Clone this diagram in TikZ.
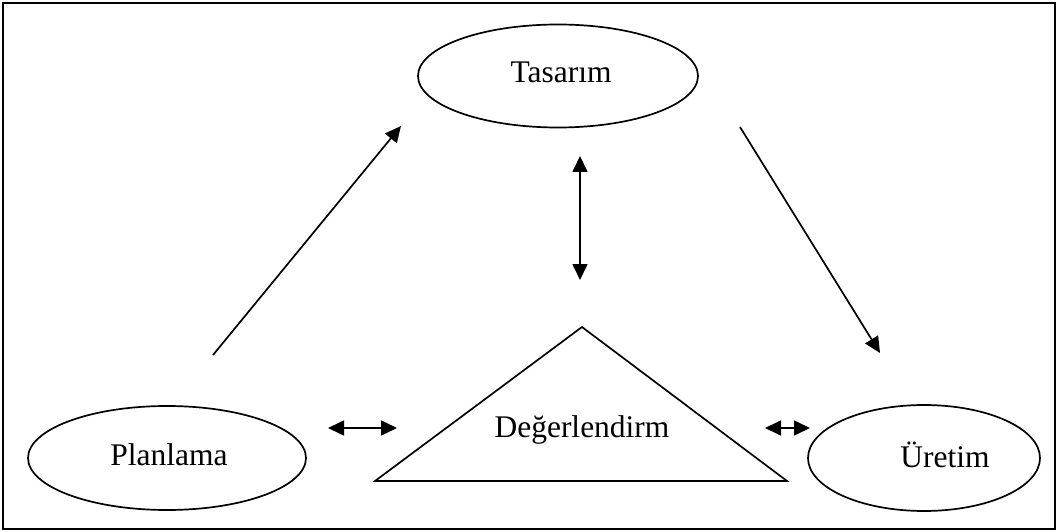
\documentclass[tikz,border=0pt]{standalone}
\usepackage{fontspec}
\setmainfont{Liberation Serif}
\usetikzlibrary{shapes.geometric,arrows.meta}
\begin{document}
\begin{tikzpicture}[x=1pt,y=-1pt,
  lbl/.style={font=\fontsize{31.5}{36}\selectfont, inner sep=0pt},
  oval/.style={draw, ellipse, line width=1.7pt, inner sep=0pt},
  conn/.style={line width=1.7pt, -{Triangle[length=16pt,width=15pt]}},
  both/.style={line width=1.7pt, {Triangle[length=16pt,width=15pt]}-{Triangle[length=16pt,width=15pt]}}]
  \useasboundingbox (0,0) rectangle (1058,532);
  \draw[line width=1.8pt] (3,3) rectangle (1055,529);

  % process stages
  \node[oval, minimum width=280pt, minimum height=103pt] (tas) at (558,76) {};
  \node[lbl] (tastx) at (561,72) {Tasarım};
  \node[oval, minimum width=278pt, minimum height=104pt] (plan) at (167,458) {};
  \node[lbl] (plantx) at (169,455) {Planlama};
  \node[oval, minimum width=232pt, minimum height=106pt] (ure) at (924,458) {};
  \node[lbl] (uretx) at (945,455) {Üretim};

  % evaluation triangle
  \coordinate (apex) at (582,327);
  \coordinate (bl) at (375,481);
  \coordinate (br) at (787,481);
  \draw[line width=1.7pt, line join=miter] (apex) -- (bl) -- (br) -- cycle;
  \node[lbl] (deg) at (582,430) {Değerlendirm};

  % connector ends
  \coordinate (p1) at (213,355);
  \coordinate (p2) at (401,126);
  \coordinate (t1) at (740,127);
  \coordinate (t2) at (880,353);
  \coordinate (v1) at (580,156);
  \coordinate (v2) at (580,280);
  \coordinate (l1) at (328,428);
  \coordinate (l2) at (397,428);
  \coordinate (r1) at (765,428);
  \coordinate (r2) at (810,428);

  \draw[conn] (p1) -- (p2);
  \draw[conn] (t1) -- (t2);
  \draw[both] (v1) -- (v2);
  \draw[both] (l1) -- (l2);
  \draw[both] (r1) -- (r2);
\end{tikzpicture}
\end{document}
